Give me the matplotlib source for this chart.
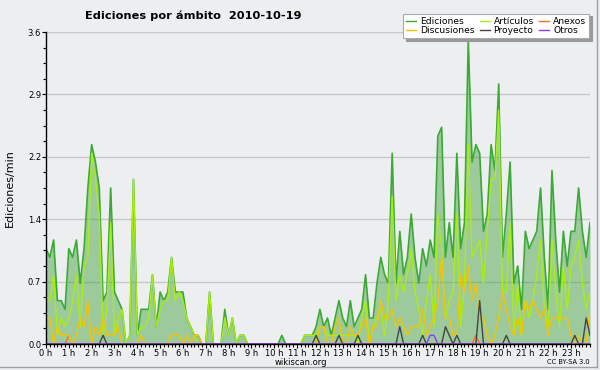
import numpy as np
import matplotlib
matplotlib.use("Agg")
import matplotlib.pyplot as plt
from matplotlib.lines import Line2D
from matplotlib.ticker import MultipleLocator, FormatStrFormatter

# ediciones/min por bloque de 10 minutos (144 bloques = 24 h)
ediciones = [
    1.1, 1.0, 1.2, 0.5, 0.5, 0.4, 1.1, 1.0, 1.2, 0.7,
    1.1, 1.8, 2.3, 2.1, 1.8, 0.5, 0.6, 1.8, 0.6, 0.5,
    0.4, 0.0, 0.1, 1.9, 0.1, 0.4, 0.4, 0.4, 0.8, 0.2,
    0.6, 0.5, 0.6, 1.0, 0.6, 0.6, 0.6, 0.3, 0.2, 0.1,
    0.1, 0.0, 0.0, 0.6, 0.0, 0.0, 0.0, 0.4, 0.1, 0.3,
    0.0, 0.1, 0.1, 0.0, 0.0, 0.0, 0.0, 0.0, 0.0, 0.0,
    0.0, 0.0, 0.1, 0.0, 0.0, 0.0, 0.0, 0.0, 0.1, 0.1,
    0.1, 0.2, 0.4, 0.2, 0.3, 0.1, 0.3, 0.5, 0.3, 0.2,
    0.5, 0.2, 0.3, 0.4, 0.8, 0.3, 0.3, 0.7, 1.0, 0.8,
    0.7, 2.2, 0.7, 1.3, 0.8, 1.0, 1.5, 1.0, 0.7, 1.1,
    0.9, 1.2, 1.0, 2.4, 2.5, 1.0, 1.4, 1.0, 2.2, 1.1,
    1.4, 3.5, 2.1, 2.3, 2.2, 1.3, 1.5, 2.3, 2.0, 3.0,
    1.0, 1.5, 2.1, 0.7, 0.9, 0.4, 1.3, 1.1, 1.2, 1.3,
    1.8, 1.0, 0.4, 2.0, 1.2, 0.6, 1.3, 0.9, 1.3, 1.3,
    1.8, 1.3, 1.0, 1.4,
]
articulos = [
    0.5, 0.5, 0.8, 0.1, 0.3, 0.2, 0.3, 0.5, 0.8, 0.2,
    0.9, 1.0, 2.2, 1.9, 1.5, 0.1, 0.4, 1.4, 0.1, 0.3,
    0.4, 0.0, 0.1, 1.9, 0.1, 0.2, 0.2, 0.3, 0.8, 0.2,
    0.4, 0.5, 0.5, 1.0, 0.5, 0.6, 0.5, 0.3, 0.2, 0.1,
    0.0, 0.0, 0.0, 0.6, 0.0, 0.0, 0.0, 0.3, 0.1, 0.3,
    0.0, 0.1, 0.1, 0.0, 0.0, 0.0, 0.0, 0.0, 0.0, 0.0,
    0.0, 0.0, 0.0, 0.0, 0.0, 0.0, 0.0, 0.0, 0.1, 0.1,
    0.1, 0.1, 0.2, 0.2, 0.1, 0.1, 0.1, 0.1, 0.1, 0.1,
    0.1, 0.1, 0.0, 0.3, 0.5, 0.0, 0.2, 0.3, 0.4, 0.1,
    0.5, 1.7, 0.5, 0.8, 0.6, 0.8, 1.1, 0.6, 0.4, 0.1,
    0.5, 0.8, 0.2, 1.5, 1.1, 0.3, 0.5, 0.6, 1.5, 0.2,
    0.7, 2.3, 1.0, 1.1, 1.2, 0.7, 1.3, 1.9, 1.9, 2.7,
    0.6, 0.6, 1.4, 0.1, 0.7, 0.1, 0.5, 0.3, 0.5, 0.8,
    1.2, 0.4, 0.2, 1.2, 0.6, 0.2, 0.9, 0.4, 0.9, 1.0,
    1.2, 0.7, 0.4, 0.6,
]
discusiones = [
    0.3, 0.3, 0.0, 0.2, 0.1, 0.1, 0.1, 0.0, 0.1, 0.3,
    0.2, 0.5, 0.0, 0.2, 0.1, 0.3, 0.1, 0.1, 0.1, 0.2,
    0.0, 0.0, 0.0, 0.0, 0.0, 0.1, 0.0, 0.0, 0.0, 0.0,
    0.0, 0.0, 0.0, 0.1, 0.1, 0.1, 0.0, 0.1, 0.0, 0.1,
    0.1, 0.0, 0.0, 0.0, 0.0, 0.0, 0.0, 0.0, 0.0, 0.0,
    0.0, 0.0, 0.0, 0.0, 0.0, 0.0, 0.0, 0.0, 0.0, 0.0,
    0.0, 0.0, 0.0, 0.0, 0.0, 0.0, 0.0, 0.0, 0.0, 0.0,
    0.0, 0.0, 0.2, 0.2, 0.0, 0.0, 0.2, 0.3, 0.0, 0.0,
    0.2, 0.1, 0.1, 0.2, 0.3, 0.0, 0.2, 0.2, 0.5, 0.3,
    0.3, 0.4, 0.2, 0.3, 0.2, 0.1, 0.2, 0.2, 0.2, 0.4,
    0.1, 0.2, 0.3, 0.5, 1.0, 0.3, 0.3, 0.1, 0.1, 0.8,
    0.6, 0.9, 0.5, 0.7, 0.3, 0.3, 0.1, 0.0, 0.1, 0.3,
    0.6, 0.4, 0.2, 0.1, 0.3, 0.1, 0.5, 0.4, 0.5, 0.4,
    0.3, 0.4, 0.1, 0.3, 0.3, 0.3, 0.3, 0.3, 0.1, 0.0,
    0.1, 0.0, 0.0, 0.4,
]
# series casi vacias: bloque -> valor (el resto es 0)
anexos_bins = [6, 113]
anexos_vals = [0.1, 0.1]
proyecto_bins = [15, 71, 77, 82, 93, 99, 105, 106, 108, 114, 121, 139, 142, 143]
proyecto_vals = [0.1, 0.1, 0.1, 0.1, 0.2, 0.1, 0.2, 0.1, 0.1, 0.5, 0.1, 0.1, 0.3, 0.1]
otros_bins = [101, 102]
otros_vals = [0.1, 0.1]

hour_labels = [f"{h} h" for h in range(24)]

BG = "#eceef0"
n = len(ediciones)
x = np.arange(n)


def sparse(bins, vals):
    out = np.zeros(n)
    out[bins] = vals
    return out


anexos = sparse(anexos_bins, anexos_vals)
proyecto = sparse(proyecto_bins, proyecto_vals)
otros = sparse(otros_bins, otros_vals)

fig = plt.figure(figsize=(6, 3.7), dpi=100, facecolor=BG)
ax = fig.add_axes([46 / 600, 1 - 344 / 370, 544 / 600, 312 / 370])
ax.set_facecolor(BG)

series = [
    ("Ediciones", ediciones, "#3aaa35", 1.2),
    ("Artículos", articulos, "#aaee11", 1.0),
    ("Anexos", anexos, "#ff6a2a", 1.0),
    ("Discusiones", discusiones, "#f5c400", 1.0),
    ("Proyecto", proyecto, "#444444", 1.0),
    ("Otros", otros, "#8a3cff", 1.0),
]

ax.fill_between(x, ediciones, color="#2f9a2a", alpha=0.42, lw=0, zorder=1)
for name, vals, col, lw in series:
    ax.plot(x, vals, color=col, lw=lw, zorder=2)

ax.set_xlim(0, n - 1)
ax.set_ylim(0, 3.6)
ax.set_yticks(np.linspace(0, 3.6, 6))
ax.yaxis.set_major_formatter(FormatStrFormatter("%.1f"))
ax.yaxis.set_minor_locator(MultipleLocator(0.18))
ax.set_xticks(np.arange(0, n, 6))
ax.set_xticklabels(hour_labels)
ax.xaxis.set_minor_locator(MultipleLocator(1))

ax.yaxis.grid(True, color="#c8c8c8", lw=1, zorder=0)
ax.set_axisbelow(True)
for s in ("top", "right"):
    ax.spines[s].set_visible(False)
for s in ("left", "bottom"):
    ax.spines[s].set_color("black")
    ax.spines[s].set_linewidth(1)

ax.tick_params(axis="both", which="major", direction="out", length=3,
               width=0.8, labelsize=6, pad=0.5)
ax.tick_params(axis="both", which="minor", direction="out", length=2.2,
               width=0.8)

fig.text(10 / 600, 1 - 188 / 370, "Ediciones/min", rotation=90,
         fontsize=8, ha="center", va="center")
fig.text(85 / 600, 1 - 16 / 370, "Ediciones por ámbito  2010-10-19",
         fontsize=8.2, fontweight="bold", ha="left", va="center")
fig.text(301 / 600, 1 - 362.5 / 370, "wikiscan.org", fontsize=6,
         ha="center", va="center")
fig.text(590 / 600, 1 - 362.5 / 370, "CC BY-SA 3.0", fontsize=4.8,
         ha="right", va="center")

# leyenda (orden por columnas)
order = [0, 3, 1, 4, 2, 5]
handles = [Line2D([], [], color=series[i][2], lw=1) for i in order]
labels = [series[i][0] for i in order]
leg = fig.legend(handles, labels, loc="upper right",
                 bbox_to_anchor=(594 / 600, 1 - 9 / 370), ncol=3,
                 fontsize=6.6, handlelength=1.1, handletextpad=0.4,
                 columnspacing=0.6, labelspacing=0.05, borderpad=0.35,
                 fancybox=False, framealpha=1, edgecolor="#aaaaaa",
                 shadow={"color": "#999999", "alpha": 1})
leg.get_frame().set_linewidth(0.8)

# marco de la imagen
fig.add_artist(Line2D([597 / 600, 597 / 600], [1 - 367 / 370, 1], color="#a0a0a0", lw=1))
fig.add_artist(Line2D([0, 597 / 600], [1 - 367 / 370, 1 - 367 / 370], color="#a0a0a0", lw=1))

fig.savefig("out.png", dpi=100, facecolor=BG)
